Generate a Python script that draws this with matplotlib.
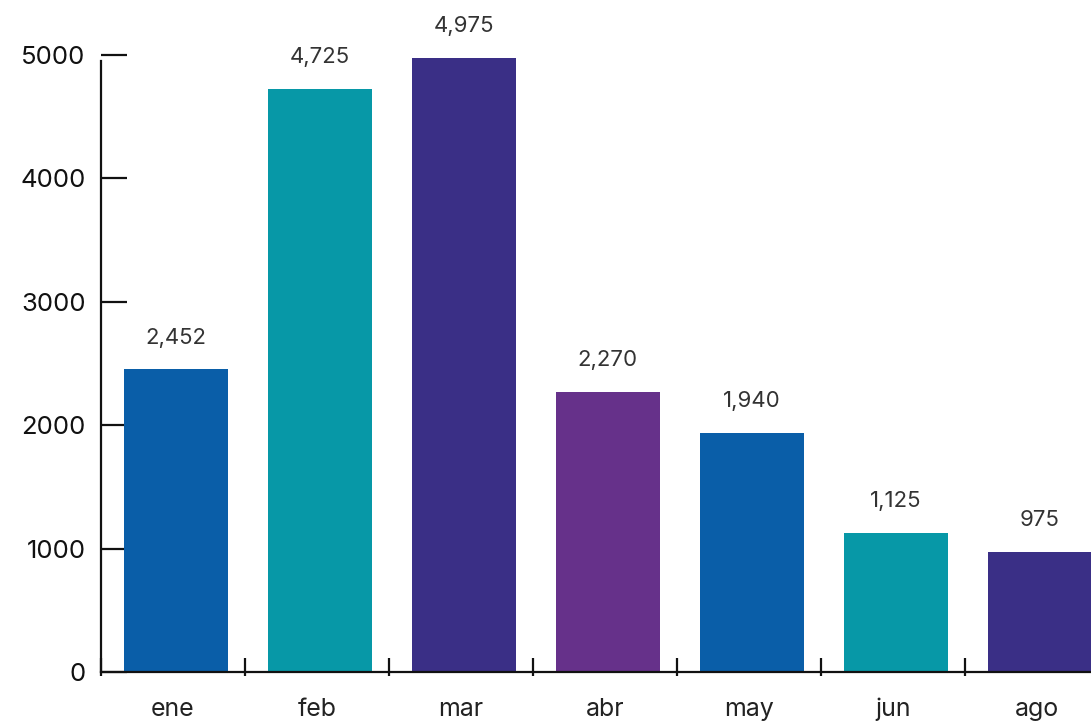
import matplotlib
matplotlib.use("Agg")
import matplotlib.pyplot as plt

months = ["ene", "feb", "mar", "abr", "may", "jun", "ago"]
values = [2452, 4725, 4975, 2270, 1940, 1125, 975]
colors = ["#0a5ea8", "#0798a7", "#3a2f86", "#66318a", "#0a5ea8", "#0798a7", "#3a2f86"]
value_labels = ["2,452", "4,725", "4,975", "2,270", "1,940", "1,125", "975"]
yticks = [0, 1000, 2000, 3000, 4000, 5000]

plt.rcParams["font.family"] = ["Inter", "DejaVu Sans"]

fig = plt.figure(figsize=(10.91, 7.25), dpi=100)
ax = fig.add_axes([101 / 1091, 1 - 672 / 725, 1008 / 1091, 617 / 725])

x = list(range(len(months)))
ax.bar([xi + 0.02 for xi in x], values, width=0.72, color=colors, zorder=2)

for xi, v, lab in zip(x, values, value_labels):
    ax.annotate(lab, (xi + 0.02, v), xytext=(0, 18.5), textcoords="offset points",
                ha="center", va="baseline", fontsize=16, color="#333333")

ax.set_xlim(-0.5, len(months) - 0.5)
ax.set_ylim(0, 5000)

ax.spines["top"].set_visible(False)
ax.spines["right"].set_visible(False)
for s in ("left", "bottom"):
    ax.spines[s].set_linewidth(1.6)
    ax.spines[s].set_color("#111111")
ax.spines["left"].set_bounds(0, 4950)

ax.set_yticks(yticks)
ax.set_yticklabels([str(t) for t in yticks])
ax.tick_params(axis="y", direction="in", length=18.5, width=1.6, pad=11,
               labelsize=18.5, labelcolor="#111111", color="#111111")

bounds = [-0.5] + [i + 0.5 for i in x[:-1]]
ax.xaxis.remove_overlapping_locs = False
ax.set_xticks(bounds)
ax.set_xticklabels([])
ax.set_xticks(bounds, minor=True)
ax.tick_params(axis="x", which="major", direction="in", length=10, width=1.6, color="#111111")
ax.tick_params(axis="x", which="minor", direction="out", length=3, width=1.6, color="#111111")

sec = ax.secondary_xaxis("bottom")
sec.set_xticks(x, months)
sec.spines["bottom"].set_visible(False)
sec.tick_params(axis="x", length=0, pad=18.5, labelsize=18, labelcolor="#222222")

fig.savefig("out.png", dpi=100)
